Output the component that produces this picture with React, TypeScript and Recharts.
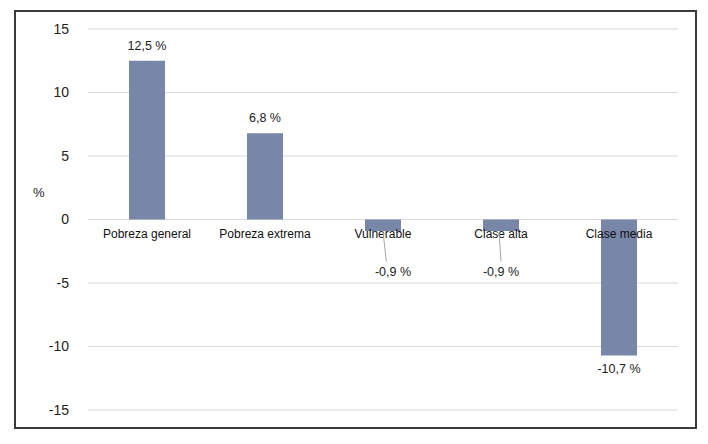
import { Bar, BarChart, CartesianGrid, LabelList, XAxis, YAxis } from "recharts";

const categories = ["Pobreza general", "Pobreza extrema", "Vulnerable", "Clase alta", "Clase media"];
const changes = [12.5, 6.8, -0.9, -0.9, -10.7];
const yTicks = [-15, -10, -5, 0, 5, 10, 15];

const data = categories.map((name, i) => ({ name, value: changes[i] }));

const FONT = "'Liberation Sans', Arial, sans-serif";
const fmt = (v: number) => `${v.toFixed(1).replace(".", ",")} %`;

// label drawn at the zero line for each category, plus the value label
function BarLabels(props: any) {
  const { x, y, width, height, value, index } = props;
  const cx = x + width / 2;
  const top = Math.min(y, y + height);
  const bottom = Math.max(y, y + height);
  const zeroY = value >= 0 ? bottom : top;
  const barPx = bottom - top;
  const name = categories[index];
  let valueEl;
  if (value >= 0) {
    valueEl = (
      <text x={cx} y={top - 15} textAnchor="middle" dominantBaseline="central" fontSize={12.5} fill="#222" fontFamily={FONT}>
        {fmt(value)}
      </text>
    );
  } else if (barPx < 30) {
    const shift = index === 2 ? 10 : 0;
    valueEl = (
      <g>
        <line x1={cx - 2 + shift / 5} y1={zeroY + 12} x2={cx + shift / 3} y2={zeroY + 42} stroke="#a6a6a6" strokeWidth={1} />
        <text x={cx + shift} y={zeroY + 52} textAnchor="middle" dominantBaseline="central" fontSize={12.5} fill="#222" fontFamily={FONT}>
          {fmt(value)}
        </text>
      </g>
    );
  } else {
    valueEl = (
      <text x={cx} y={bottom + 14} textAnchor="middle" dominantBaseline="central" fontSize={12.5} fill="#222" fontFamily={FONT}>
        {fmt(value)}
      </text>
    );
  }
  return (
    <g>
      <text x={cx} y={zeroY + 14} textAnchor="middle" dominantBaseline="central" fontSize={12} fill="#111" fontFamily={FONT}>
        {name}
      </text>
      {valueEl}
    </g>
  );
}

export default function App() {
  return (
    <div style={{ marginLeft: 6, marginTop: 2, width: 679, height: 415, border: "2px solid #3a3a3a", background: "#fff" }}>
      <BarChart width={679} height={415} data={data} margin={{ top: 17, right: 17, bottom: 17, left: 0 }} barSize={36}>
        <CartesianGrid vertical={false} stroke="#d9d9d9" />
        <XAxis dataKey="name" hide />
        <YAxis
          domain={[-15, 15]}
          ticks={yTicks}
          width={72}
          axisLine={false}
          tickLine={false}
          tickSize={0}
          tickMargin={19}
          tick={{ fontSize: 14, fill: "#222", fontFamily: FONT }}
          label={{ value: "%", position: "insideLeft", offset: 17, dy: -27, fontSize: 13, fill: "#222", fontFamily: FONT }}
        />
        <Bar dataKey="value" fill="#7886a8" isAnimationActive={false}>
          <LabelList dataKey="value" content={BarLabels} />
        </Bar>
      </BarChart>
    </div>
  );
}
